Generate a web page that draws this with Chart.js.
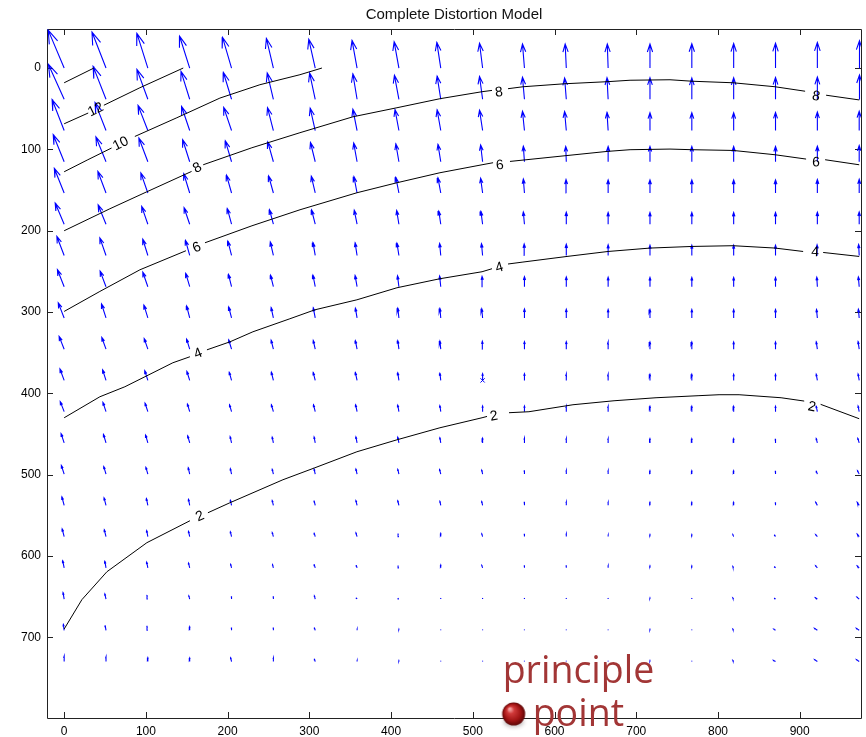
<!DOCTYPE html>
<html>
<head>
<meta charset="utf-8">
<title>Complete Distortion Model</title>
<script src="https://cdn.jsdelivr.net/npm/chart.js@4.4.1/dist/chart.umd.min.js"></script>
<style>
  html, body { margin: 0; padding: 0; background: #fff; overflow: hidden; }
  canvas { display: block; }
</style>
</head>
<body>
<canvas id="distortionChart" width="866" height="737"></canvas>
<script>
// axis limits (image pixels) and tick values
const xRange = [-21, 975];
const yRange = [-48, 799];
const xTicks = [0, 100, 200, 300, 400, 500, 600, 700, 800, 900];
const yTicks = [0, 100, 200, 300, 400, 500, 600, 700];

// nodes where the distortion is sampled
const gridX = [0, 51.2, 102.4, 153.6, 204.8, 256, 307.2, 358.4, 409.6, 460.8,
               512, 563.2, 614.4, 665.6, 716.8, 768, 819.2, 870.4, 921.6, 972.8];
const gridY = [0, 38.4, 76.8, 115.2, 153.6, 192, 230.4, 268.8, 307.2, 345.6,
               384, 422.4, 460.8, 499.2, 537.6, 576, 614.4, 652.8, 691.2, 729.6];

// pixel displacement at each node, one row per gridY entry
const dispU = [
  [-5.7,-5.0,-3.9,-3.6,-3.2,-2.5,-2.3,-1.8,-1.7,-1.4,-1.1,-0.7,-0.4,-0.3,0,0,0,0,0,0.1],
  [-5.6,-4.6,-3.9,-3.1,-2.9,-2.2,-2.0,-1.5,-1.6,-1.3,-1.1,-0.7,-0.6,-0.4,0,0,0,0,0,0.1],
  [-4.3,-3.9,-3.5,-2.9,-2.8,-2.1,-1.8,-1.5,-1.4,-1.3,-1.1,-0.7,-0.6,-0.4,0,0,0,0,0,0],
  [-3.9,-3.6,-3.2,-2.5,-2.2,-2.0,-1.7,-1.2,-1.1,-1.0,-0.7,-0.4,-0.2,0,0,0,0,0,0,0],
  [-3.5,-2.9,-2.5,-2.1,-1.8,-1.7,-1.4,-1.1,-1.1,-1.0,-0.7,-0.4,-0.1,0,0,0,0,0,0,0],
  [-3.2,-2.8,-2.2,-2.0,-1.5,-1.4,-1.3,-1.0,-0.8,-0.7,-0.6,-0.4,0,0,0,0,0,0,0,0],
  [-2.6,-2.2,-1.8,-1.5,-1.3,-1.1,-0.8,-0.7,-0.7,-0.4,-0.4,-0.1,0,0,0,0,0,0,-0.1,-0.2],
  [-2.4,-2.1,-1.8,-1.4,-1.1,-1.0,-0.8,-0.7,-0.5,-0.4,-0.2,0,0,0,0,0,0,0,-0.2,-0.3],
  [-2.1,-1.6,-1.4,-1.1,-1.0,-0.8,-0.7,-0.6,-0.4,-0.3,-0.3,0,0,0,0,0,0,0,-0.3,-0.3],
  [-1.8,-1.5,-1.3,-1.1,-1.0,-0.8,-0.7,-0.6,-0.4,-0.3,-0.1,0,0,0,0,0,0,0,-0.4,-0.4],
  [-1.5,-1.2,-1.1,-1.0,-0.8,-0.7,-0.7,-0.6,-0.4,-0.3,0,0,0,0,0,0,0,0,-0.4,-0.4],
  [-1.4,-1.1,-1.0,-0.8,-0.7,-0.7,-0.6,-0.5,-0.4,-0.3,0,0,0,0,0,0,0,0,-0.4,-0.4],
  [-1.1,-0.9,-0.8,-0.7,-0.5,-0.4,-0.4,-0.4,-0.4,-0.3,0,0,0,0,0,0,0,0,-0.4,-0.5],
  [-1.0,-0.8,-0.7,-0.5,-0.4,-0.4,-0.4,-0.4,-0.4,-0.4,-0.3,0,0,0,0,0,0,0,-0.4,-0.6],
  [-0.8,-0.7,-0.5,-0.4,-0.4,-0.4,-0.4,-0.4,-0.4,-0.3,-0.3,0,0,0,0,0,0,0,-0.6,-0.7],
  [-0.7,-0.6,-0.4,-0.4,-0.4,-0.4,-0.4,-0.4,-0.3,0,-0.3,0,0,0,0,0,-0.3,-0.4,-0.6,-0.7],
  [-0.5,-0.4,-0.4,-0.4,-0.3,-0.3,-0.4,-0.3,-0.3,0,-0.3,0,0,0,0,0,-0.3,-0.4,-0.6,-0.7],
  [-0.4,-0.4,-0.3,-0.3,0,0,-0.3,-0.3,-0.3,0,0,0,0,0,0,0,-0.3,-0.4,-0.7,-0.8],
  [-0.3,-0.3,-0.3,0,0,0,-0.3,0,0,0,0,0,0,0,0,0,-0.3,-0.6,-1.0,-1.0],
  [0,0,0,0,-0.3,0,-0.3,0,0,0,0,0,0,0,0,0,-0.3,-0.7,-1.0,-1.0]
];
const dispV = [
  [-13.6,-12.9,-12.4,-11.4,-11.0,-10.6,-10.3,-9.9,-9.4,-9.2,-8.9,-8.6,-8.6,-8.6,-8.6,-8.7,-8.8,-8.9,-9.2,-9.8],
  [-12.5,-11.8,-10.7,-10.0,-9.6,-9.4,-9.4,-9.1,-8.6,-8.3,-8.2,-7.9,-7.6,-7.7,-7.7,-7.6,-7.7,-7.8,-8.0,-8.7],
  [-11.1,-10.0,-9.0,-8.6,-8.3,-8.2,-8.0,-7.6,-7.5,-7.4,-7.3,-6.9,-6.8,-6.5,-6.4,-6.4,-6.4,-6.5,-6.6,-6.9],
  [-9.7,-8.9,-8.5,-7.9,-7.5,-7.1,-6.9,-6.7,-6.4,-6.2,-6.0,-5.6,-5.5,-5.5,-5.5,-5.5,-5.5,-5.5,-5.6,-5.8],
  [-8.8,-7.7,-7.2,-6.9,-6.4,-6.1,-6.0,-5.8,-5.6,-5.4,-5.3,-5.0,-4.8,-4.7,-4.7,-4.7,-4.7,-4.7,-4.8,-4.9],
  [-7.6,-6.9,-6.4,-5.9,-5.6,-5.2,-5.1,-5.0,-4.9,-4.7,-4.6,-4.4,-4.3,-4.2,-4.2,-4.2,-4.2,-4.2,-4.3,-4.4],
  [-6.8,-6.3,-5.8,-5.4,-5.1,-4.8,-4.6,-4.5,-4.4,-4.3,-4.2,-4.1,-4.0,-3.8,-3.7,-3.7,-3.7,-3.7,-3.8,-3.9],
  [-6.1,-5.6,-5.2,-4.8,-4.4,-4.1,-4.1,-4.0,-3.9,-3.8,-3.7,-3.6,-3.5,-3.4,-3.3,-3.3,-3.3,-3.3,-3.4,-3.5],
  [-5.4,-5.0,-4.6,-4.3,-3.9,-3.7,-3.6,-3.5,-3.5,-3.4,-3.3,-3.2,-3.1,-3.0,-3.0,-3.0,-3.0,-3.0,-3.0,-3.1],
  [-4.6,-4.2,-3.8,-3.6,-3.3,-3.2,-3.1,-3.0,-3.0,-2.9,-2.8,-2.7,-2.7,-2.6,-2.6,-2.6,-2.6,-2.6,-2.6,-2.7],
  [-4.1,-3.8,-3.5,-3.2,-2.9,-2.9,-2.8,-2.8,-2.7,-2.5,-2.4,-2.4,-2.3,-2.2,-2.2,-2.2,-2.2,-2.2,-2.2,-2.3],
  [-3.6,-3.3,-3.0,-2.7,-2.4,-2.4,-2.4,-2.4,-2.3,-2.1,-2.0,-2.0,-1.9,-1.9,-1.9,-1.9,-1.9,-1.9,-1.9,-2.0],
  [-3.3,-3.0,-2.8,-2.5,-2.2,-2.0,-2.1,-2.1,-2.0,-1.8,-1.7,-1.7,-1.6,-1.5,-1.5,-1.5,-1.5,-1.5,-1.5,-1.6],
  [-3.1,-2.7,-2.4,-2.2,-1.9,-1.7,-1.8,-1.8,-1.7,-1.6,-1.4,-1.4,-1.3,-1.2,-1.2,-1.2,-1.2,-1.2,-1.2,-1.2],
  [-3.0,-2.7,-2.4,-2.1,-1.8,-1.7,-1.7,-1.7,-1.6,-1.4,-1.3,-1.3,-1.2,-1.1,-1.1,-1.1,-1.1,-1.1,-1.1,-1.1],
  [-2.7,-2.4,-2.1,-1.8,-1.7,-1.4,-1.4,-1.3,-1.1,-1.1,-1.0,-1.0,-1.0,-0.5,-0.7,-0.7,-0.7,-0.7,-0.7,-0.9],
  [-2.5,-2.3,-2.0,-1.7,-1.2,-1.1,-1.3,-1.0,-0.8,-1.0,-0.9,-0.9,-0.9,-0.7,-0.7,-0.7,-0.5,-0.5,-0.7,-0.7],
  [-2.3,-1.8,-1.5,-1.1,-1.0,-1.0,-1.1,-0.5,-0.4,-0.4,-0.4,-0.4,-0.4,-0.4,-0.4,-0.4,-0.4,-0.4,-0.5,-0.7],
  [-2.1,-1.8,-1.6,-1.3,-1.0,-1.0,-1.0,-0.4,-0.4,-0.3,-0.3,-0.3,-0.3,-0.3,-0.3,-0.3,-0.4,-0.4,-0.7,-0.7],
  [-1.9,-1.7,-1.4,-1.3,-1.3,-1.3,-1.0,-0.3,-0.3,-0.3,-0.3,-0.3,-0.3,-0.3,-0.3,-0.3,-0.4,-0.4,-0.7,-0.7]
];
const quiverScale = 3.43;

// iso-lines of the displacement magnitude, null marks the break left for a label
const contourLevels = [14, 12, 10, 8, 6, 4, 2];
const contour14 = [[0, 18.1], [36.4, 0]];
const contour12 = [[0, 68.5], [29.4, 55.3], null, [48.6, 45.7], [92.7, 24.2], [145.7, 0]];
const contour10 = [[0, 127.5], [29, 112.7], [58, 98.3], null,
  [86.5, 84.1], [137.9, 61.1], [190.6, 36.9], [239.5, 20.5], [288.5, 8.2], [315.4, 0]];
const contour8 = [[0, 200], [55.9, 173], [101.2, 152.1], [155.9, 127.1], null,
  [170.1, 118.9], [229.7, 98], [288.5, 79.5], [353.4, 59.9], [407.2, 48.8], [459.8, 37.7], [511.3, 29.1], [523.5, 27.5], null,
  [543.1, 25.4], [561.4, 23], [612.8, 19.3], [664.2, 16.8], [692.4, 15], [741.3, 14.4], [768.3, 16.2], [818.5, 18.1], [869.9, 23], [906.6, 28.5], null,
  [932.3, 33.4], [972.8, 39.2]];
const contour6 = [[0, 299.2], [43.7, 274.6], [92.7, 248], [149, 224.6], null,
  [172.3, 214.8], [229.8, 193.9], [288.6, 174.2], [358.3, 153.3], [407.2, 141], [459.8, 128.7], [511.3, 118.9], [524.8, 116.4], null,
  [545.5, 114.8], [612.8, 107.8], [664.2, 102.5], [692.4, 100.4], [741.3, 99.6], [768.3, 100.4], [818.5, 101.3], [869.9, 106.6], [907.8, 111.9], null,
  [931.1, 112.7], [972.8, 118.9]];
const contour4 = [[0, 429.9], [43.7, 404.1], [74.3, 391.8], [101.2, 378.3], [133, 362.3], [153.9, 354.9], null,
  [174.7, 346.4], [202.8, 336.6], [231, 324.2], [276.2, 308.2], [306.8, 297.2], [358.2, 284.9], [407.2, 270.1], [459.8, 259], [511.3, 250.4], [523.5, 246.7], null,
  [543.1, 240.9], [561.4, 238.5], [615.3, 231.6], [665.5, 225.5], [716.9, 221.3], [768.3, 219.3], [818.5, 218.4], [869.9, 221.3], [904.2, 225.5], null,
  [928.7, 226.7], [972.8, 231.6]];
const contour2 = [[0, 689.6], [21.7, 653.5], [52.3, 619.2], [101.2, 583.5], [153.9, 556.5], null,
  [175.9, 546.7], [202.8, 534.4], [267.7, 506.1], [306.8, 491.4], [358.2, 471.7], [407.2, 457], [459.8, 442.2], [511.3, 429.9], [517.4, 428.3], null,
  [544.3, 423.7], [568.7, 422.5], [622.6, 413.9], [672.8, 409], [724.2, 405.3], [775.6, 402.8], [801.3, 401.6], [825.8, 401.6], [877.2, 405.3], [905.5, 409.4], null,
  [925.6, 413.4], [972.8, 431.1]];
const contourLines = [contour14, contour12, contour10, contour8, contour6, contour4, contour2];

// inline contour labels
const labelText = ['12', '10', '8', '8', '8', '6', '6', '6', '4', '4', '4', '2', '2', '2'];
const labelX = [38.8, 69.4, 163.0, 532.1, 920.1, 162.4, 533.2, 920.1, 164.0, 532.4, 918.9, 166.1, 526.0, 914.8];
const labelY = [51.3, 93.1, 122.9, 30.0, 34.9, 220.9, 119.7, 116.0, 351.2, 245.5, 226.7, 551.2, 428.0, 416.7];

// image centre and principal point
const imageCenter = [512, 384];
const principalPoint = [550, 794];
const principalText = ['principle', 'point'];

const toPoints = line => line.map(p => (p ? { x: p[0], y: p[1] } : { x: null, y: null }));

// quiver arrows, head proportions as in MATLAB quiver (alpha = beta = 0.33)
function quiverPoints() {
  const pts = [];
  const gap = { x: null, y: null };
  const a = 0.33, b = 0.33;
  gridY.forEach((y0, i) => {
    gridX.forEach((x0, j) => {
      const du = dispU[i][j] * quiverScale;
      const dv = dispV[i][j] * quiverScale;
      const hx = x0 + du, hy = y0 + dv;
      pts.push({ x: x0, y: y0 }, { x: hx, y: hy }, gap,
        { x: hx - a * (du + b * dv), y: hy - a * (dv - b * du) },
        { x: hx, y: hy },
        { x: hx - a * (du - b * dv), y: hy - a * (dv + b * du) }, gap);
    });
  });
  return pts;
}

// shaded red ball used as the point style of the principal point
function makeBall() {
  const c = document.createElement('canvas');
  c.width = 44; c.height = 44;
  const g = c.getContext('2d');
  g.save();
  g.filter = 'blur(2px)';
  g.fillStyle = 'rgba(60,40,40,0.35)';
  g.beginPath();
  g.ellipse(22, 30, 10, 5, 0, 0, Math.PI * 2);
  g.fill();
  g.restore();
  const grad = g.createRadialGradient(18, 17, 1, 22, 22, 11.5);
  grad.addColorStop(0, '#f4a0a0');
  grad.addColorStop(0.25, '#d03a3a');
  grad.addColorStop(0.7, '#a01414');
  grad.addColorStop(1, '#5c0606');
  g.fillStyle = grad;
  g.beginPath();
  g.arc(22, 22, 11.5, 0, Math.PI * 2);
  g.fill();
  return c;
}

const titlePlugin = {
  id: 'plotTitle',
  afterDraw(chart) {
    const { ctx, chartArea } = chart;
    ctx.save();
    ctx.font = '15px "Liberation Sans", Arial, sans-serif';
    ctx.fillStyle = '#111';
    ctx.textAlign = 'center';
    ctx.textBaseline = 'alphabetic';
    ctx.fillText('Complete Distortion Model', (chartArea.left + chartArea.right) / 2, 18.5);
    ctx.restore();
  }
};

// box round the axes with inward ticks on all four sides
const framePlugin = {
  id: 'axesFrame',
  beforeDatasetsDraw(chart) {
    const { ctx, chartArea: a, scales } = chart;
    const len = 6;
    ctx.save();
    ctx.strokeStyle = '#222';
    ctx.lineWidth = 1;
    ctx.beginPath();
    ctx.rect(Math.round(a.left) + 0.5, Math.round(a.top) + 0.5,
      Math.round(a.right - a.left), Math.round(a.bottom - a.top));
    xTicks.forEach(v => {
      const px = Math.round(scales.x.getPixelForValue(v)) + 0.5;
      ctx.moveTo(px, a.bottom); ctx.lineTo(px, a.bottom - len);
      ctx.moveTo(px, a.top); ctx.lineTo(px, a.top + len);
    });
    yTicks.forEach(v => {
      const py = Math.round(scales.y.getPixelForValue(v)) + 0.5;
      ctx.moveTo(a.left, py); ctx.lineTo(a.left + len, py);
      ctx.moveTo(a.right, py); ctx.lineTo(a.right - len, py);
    });
    ctx.stroke();
    ctx.restore();
  }
};

// level numbers written into the breaks of the contour lines
const contourLabelPlugin = {
  id: 'contourLabels',
  afterDatasetsDraw(chart) {
    const { ctx, scales: { x, y } } = chart;
    ctx.save();
    ctx.font = '14px "Liberation Sans", Arial, sans-serif';
    ctx.fillStyle = '#000';
    ctx.textAlign = 'center';
    ctx.textBaseline = 'middle';
    labelText.forEach((txt, k) => {
      const line = contourLines[contourLevels.indexOf(Number(txt))];
      let best = null, bestD = Infinity;
      for (let i = 1; i < line.length - 1; i++) {
        if (line[i] !== null) continue;
        const p = line[i - 1], q = line[i + 1];
        const d = Math.hypot((p[0] + q[0]) / 2 - labelX[k], (p[1] + q[1]) / 2 - labelY[k]);
        if (d < bestD) { bestD = d; best = [p, q]; }
      }
      let ang = 0;
      if (best) {
        const dx = x.getPixelForValue(best[1][0]) - x.getPixelForValue(best[0][0]);
        const dy = y.getPixelForValue(best[1][1]) - y.getPixelForValue(best[0][1]);
        ang = Math.atan2(dy, dx);
      }
      ctx.save();
      ctx.translate(x.getPixelForValue(labelX[k]), y.getPixelForValue(labelY[k]));
      ctx.rotate(ang);
      ctx.fillText(txt, 0, 0);
      ctx.restore();
    });
    ctx.restore();
  }
};

// annotation text beside the principal point
const principalLabelPlugin = {
  id: 'principalLabel',
  afterDraw(chart) {
    const { ctx, scales: { x, y } } = chart;
    const px = x.getPixelForValue(principalPoint[0]);
    const py = y.getPixelForValue(principalPoint[1]);
    ctx.save();
    ctx.font = '37.5px "Open Sans", "Noto Sans", sans-serif';
    ctx.fillStyle = '#a23636';
    ctx.textAlign = 'left';
    ctx.textBaseline = 'alphabetic';
    ctx.fillText(principalText[0], px - 11, py - 31);
    ctx.fillText(principalText[1], px + 19, py + 12);
    ctx.restore();
  }
};

const tickFont = { family: '"Liberation Sans", Arial, sans-serif', size: 12 };

new Chart(document.getElementById('distortionChart'), {
  type: 'scatter',
  data: {
    datasets: [
      {
        label: 'principal point',
        data: [{ x: principalPoint[0], y: principalPoint[1] }],
        pointStyle: makeBall(),
        pointRadius: 12,
        clip: false,
        order: 0
      },
      {
        label: 'image center',
        data: [{ x: imageCenter[0], y: imageCenter[1] }],
        pointStyle: 'crossRot',
        pointRadius: 3,
        borderColor: '#0000ff',
        borderWidth: 1,
        order: 1
      },
      ...contourLines.map((line, k) => ({
        label: 'level ' + contourLevels[k],
        data: toPoints(line),
        showLine: true,
        spanGaps: false,
        borderColor: '#000',
        borderWidth: 1,
        pointRadius: 0,
        order: 2
      })),
      {
        label: 'displacement',
        data: quiverPoints(),
        showLine: true,
        spanGaps: false,
        borderColor: '#0000ff',
        borderWidth: 1.1,
        pointRadius: 0,
        order: 3
      }
    ]
  },
  options: {
    responsive: false,
    animation: false,
    devicePixelRatio: 1,
    events: [],
    layout: { autoPadding: false, padding: { left: 0, right: 5, top: 29, bottom: 0 } },
    plugins: {
      legend: { display: false },
      tooltip: { enabled: false },
      title: { display: false }
    },
    scales: {
      x: {
        type: 'linear',
        position: 'bottom',
        min: xRange[0],
        max: xRange[1],
        grid: { display: false, drawTicks: false },
        border: { display: false },
        afterBuildTicks: s => { s.ticks = xTicks.map(v => ({ value: v })); },
        afterFit: s => { s.height = 19; s.paddingLeft = 0; s.paddingRight = 0; },
        ticks: { color: '#000', font: tickFont, padding: 6, maxRotation: 0, autoSkip: false,
          callback: v => String(v) }
      },
      y: {
        type: 'linear',
        position: 'left',
        reverse: true,
        min: yRange[0],
        max: yRange[1],
        grid: { display: false, drawTicks: false },
        border: { display: false },
        afterBuildTicks: s => { s.ticks = yTicks.map(v => ({ value: v })); },
        afterFit: s => { s.width = 47; s.paddingTop = 0; s.paddingBottom = 0; },
        ticks: { color: '#000', font: tickFont, padding: 6, autoSkip: false,
          callback: v => String(v) }
      }
    }
  },
  plugins: [framePlugin, contourLabelPlugin, titlePlugin, principalLabelPlugin]
});
</script>
</body>
</html>
